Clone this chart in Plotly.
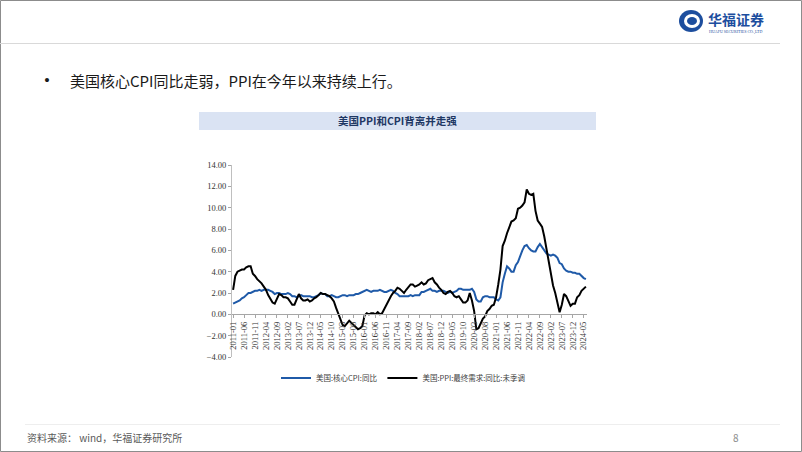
import plotly.graph_objects as go

# ---------------- data ----------------
years = list(range(2011, 2025))
months = [f"{y}-{m:02d}" for y in years for m in range(1, 13)][:162]  # 2011-01 .. 2024-06

core_cpi = [
    1.0, 1.1, 1.2, 1.3, 1.5, 1.6, 1.8, 2.0, 2.0, 2.1, 2.2, 2.2,   # 2011
    2.3, 2.2, 2.3, 2.3, 2.3, 2.2, 2.1, 1.9, 2.0, 2.0, 1.9, 1.9,   # 2012
    1.9, 2.0, 1.9, 1.7, 1.7, 1.6, 1.7, 1.8, 1.7, 1.7, 1.7, 1.7,   # 2013
    1.6, 1.6, 1.7, 1.8, 2.0, 1.9, 1.9, 1.7, 1.7, 1.8, 1.7, 1.6,   # 2014
    1.6, 1.7, 1.8, 1.8, 1.7, 1.8, 1.8, 1.8, 1.9, 1.9, 2.0, 2.1,   # 2015
    2.2, 2.3, 2.2, 2.1, 2.2, 2.2, 2.2, 2.3, 2.2, 2.1, 2.1, 2.2,   # 2016
    2.3, 2.2, 2.0, 1.9, 1.7, 1.7, 1.7, 1.7, 1.7, 1.8, 1.7, 1.8,   # 2017
    1.8, 1.8, 2.1, 2.1, 2.2, 2.3, 2.4, 2.2, 2.2, 2.1, 2.2, 2.2,   # 2018
    2.2, 2.1, 2.0, 2.1, 2.0, 2.1, 2.2, 2.4, 2.4, 2.3, 2.3, 2.3,   # 2019
    2.3, 2.4, 2.1, 1.4, 1.2, 1.2, 1.6, 1.7, 1.7, 1.6, 1.6, 1.6,   # 2020
    1.4, 1.3, 1.6, 3.0, 3.8, 4.5, 4.3, 4.0, 4.0, 4.6, 4.9, 5.5,   # 2021
    6.0, 6.4, 6.5, 6.2, 6.0, 5.9, 5.9, 6.3, 6.6, 6.3, 6.0, 5.7,   # 2022
    5.6, 5.5, 5.6, 5.5, 5.3, 4.8, 4.7, 4.3, 4.1, 4.0, 4.0, 3.9,   # 2023
    3.9, 3.8, 3.8, 3.6, 3.4, 3.3,                                 # 2024
]

ppi_final_demand = [
    2.3, 3.6, 4.0, 4.1, 4.2, 4.2, 4.4, 4.5, 4.5, 3.8, 3.6, 3.3,   # 2011
    3.1, 2.9, 2.6, 2.3, 1.8, 1.4, 1.1, 1.0, 1.5, 1.9, 1.8, 1.6,   # 2012
    1.6, 1.5, 1.2, 0.9, 0.9, 1.4, 1.9, 1.5, 1.3, 1.3, 1.4, 1.2,   # 2013
    1.3, 1.5, 1.6, 1.8, 2.0, 1.9, 1.9, 1.8, 1.7, 1.5, 1.2, 0.6,   # 2014
    0.0, -0.5, -1.0, -1.1, -0.8, -0.6, -0.8, -1.0, -1.2, -1.4, -1.3, -1.1,  # 2015
    -0.1, 0.1, 0.0, 0.1, 0.1, 0.0, 0.2, 0.0, 0.1, 0.5, 1.0, 1.4,  # 2016
    1.7, 2.0, 2.2, 2.5, 2.4, 2.2, 2.0, 2.3, 2.6, 2.8, 2.8, 2.6,   # 2017
    2.7, 2.8, 3.0, 2.8, 2.9, 3.2, 3.3, 3.4, 3.0, 2.8, 2.5, 2.3,   # 2018
    2.0, 1.9, 2.1, 2.2, 2.0, 1.7, 1.6, 1.7, 1.4, 1.1, 1.1, 1.3,   # 2019
    2.0, 1.3, 0.3, -1.4, -1.3, -0.8, -0.4, -0.2, 0.3, 0.5, 0.8, 0.9,  # 2020
    1.6, 2.8, 4.2, 6.4, 6.9, 7.6, 8.2, 8.7, 8.8, 9.0, 9.9, 10.0,  # 2021
    10.2, 10.5, 11.7, 11.3, 11.2, 11.3, 9.7, 8.8, 8.5, 8.2, 7.3, 6.2,  # 2022
    5.2, 4.0, 2.7, 2.0, 1.0, 0.2, 0.9, 1.9, 1.7, 1.2, 0.8, 1.0,   # 2023
    1.0, 1.6, 1.8, 2.2, 2.4, 2.6,                                 # 2024
]

x_tick_labels = [
    "2011-01", "2011-06", "2011-11", "2012-04", "2012-09", "2013-02", "2013-07",
    "2013-12", "2014-05", "2014-10", "2015-03", "2015-08", "2016-01", "2016-06",
    "2016-11", "2017-04", "2017-09", "2018-02", "2018-07", "2018-12", "2019-05",
    "2019-10", "2020-03", "2020-08", "2021-01", "2021-06", "2021-11", "2022-04",
    "2022-09", "2023-02", "2023-07", "2023-12", "2024-05",
]
y_tick_values = [-4, -2, 0, 2, 4, 6, 8, 10, 12, 14]

series_names = ["美国:核心CPI:同比", "美国:PPI:最终需求:同比:未季调"]
headline = "美国核心CPI同比走弱，PPI在今年以来持续上行。"
chart_title = "美国PPI和CPI背离并走强"
source_text = "资料来源： wind，华福证券研究所"
page_number = "8"

# ---------------- layout geometry ----------------
FW, FH = 802, 452
L, R, T, B = 232, 215, 165, 95
W = FW - L - R
H = FH - T - B


def px(x):
    return (x - L) / W


def py(y):
    return (FH - B - y) / H


CJK = "Noto Sans CJK SC"
SERIF = "Liberation Serif"

fig = go.Figure()
fig.add_trace(go.Scatter(x=months, y=core_cpi, mode="lines", name=series_names[0],
                         line=dict(color="#1F5AA8", width=2)))
fig.add_trace(go.Scatter(x=months, y=ppi_final_demand, mode="lines", name=series_names[1],
                         line=dict(color="#000000", width=2)))

fig.update_layout(
    width=FW, height=FH,
    margin=dict(l=L, r=R, t=T, b=B, autoexpand=False),
    paper_bgcolor="white", plot_bgcolor="white",
    showlegend=True,
    legend=dict(orientation="h", xref="container", yref="container",
                x=276 / FW, y=1 - 378 / FH, xanchor="left", yanchor="middle",
                font=dict(size=7.5, family=CJK, color="#404040"),
                itemwidth=30, bgcolor="rgba(0,0,0,0)", tracegroupgap=0),
    xaxis=dict(type="category", range=[-0.5, 161.5], anchor="free", position=4 / 18,
               tickmode="array", tickvals=x_tick_labels, ticktext=x_tick_labels,
               tickangle=-90, ticks="outside", ticklen=3, tickcolor="#a6a6a6",
               showline=True, linecolor="#a6a6a6", linewidth=1, showgrid=False,
               zeroline=False, tickfont=dict(family=SERIF, size=8.5, color="#333333")),
    yaxis=dict(range=[-4, 14], tickmode="array", tickvals=y_tick_values,
               tickformat=".2f", ticks="outside", ticklen=3, tickcolor="#a6a6a6",
               showline=True, linecolor="#bfbfbf", linewidth=1, showgrid=False,
               zeroline=False, tickfont=dict(family=SERIF, size=8.5, color="#333333")),
)

shapes = [
    # outer slide frame
    dict(type="rect", xref="paper", yref="paper", x0=px(0.5), x1=px(801.5), y0=py(0.5), y1=py(451.5),
         line=dict(color="#8c8c8c", width=1), fillcolor="rgba(0,0,0,0)", layer="above"),
    # header rule
    dict(type="line", xref="paper", yref="paper", x0=px(0), x1=px(780), y0=py(43.5), y1=py(43.5),
         line=dict(color="#d9d9d9", width=1)),
    # footer rule
    dict(type="line", xref="paper", yref="paper", x0=px(25), x1=px(780), y0=py(424.5), y1=py(424.5),
         line=dict(color="#eeeeee", width=1)),
    # title band
    dict(type="rect", xref="paper", yref="paper", x0=px(199), x1=px(596), y0=py(130), y1=py(112),
         line=dict(width=0), fillcolor="#DAE3F3", layer="below"),
    # logo mark
    dict(type="circle", xref="paper", yref="paper", x0=px(679), x1=px(703), y0=py(32), y1=py(10),
         line=dict(width=0), fillcolor="#1D4E9E"),
    dict(type="circle", xref="paper", yref="paper", x0=px(684), x1=px(700), y0=py(28), y1=py(14),
         line=dict(width=0), fillcolor="white"),
    dict(type="circle", xref="paper", yref="paper", x0=px(687), x1=px(697), y0=py(25), y1=py(17),
         line=dict(width=0), fillcolor="#1D4E9E"),
]
fig.update_layout(shapes=shapes)

ann = [
    dict(text="•", x=px(47), y=py(80), xanchor="center", yanchor="middle",
         font=dict(size=17, family=SERIF, color="#1a1a1a")),
    dict(text=headline, x=px(68), y=py(80), xanchor="left", yanchor="middle",
         font=dict(size=15, family=CJK, color="#1a1a1a")),
    dict(text="<b>" + chart_title + "</b>", x=px(397), y=py(121), xanchor="center", yanchor="middle",
         font=dict(size=10.5, family=CJK, color="#1F3864")),
    dict(text=source_text, x=px(25), y=py(437), xanchor="left", yanchor="middle",
         font=dict(size=10, family=CJK, color="#595959")),
    dict(text=page_number, x=px(736), y=py(437), xanchor="center", yanchor="middle",
         font=dict(size=10, family=CJK, color="#8c8c8c")),
    dict(text="<b>华福证券</b>", x=px(706), y=py(19), xanchor="left", yanchor="middle",
         font=dict(size=14, family=CJK, color="#1D4E9E")),
    dict(text="HUAFU SECURITIES CO.,LTD", x=px(707), y=py(32), xanchor="left", yanchor="middle",
         font=dict(size=4, family=SERIF, color="#1D4E9E")),
]
for a in ann:
    a.update(xref="paper", yref="paper", showarrow=False)
fig.update_layout(annotations=ann)

fig.write_html("out.html")
